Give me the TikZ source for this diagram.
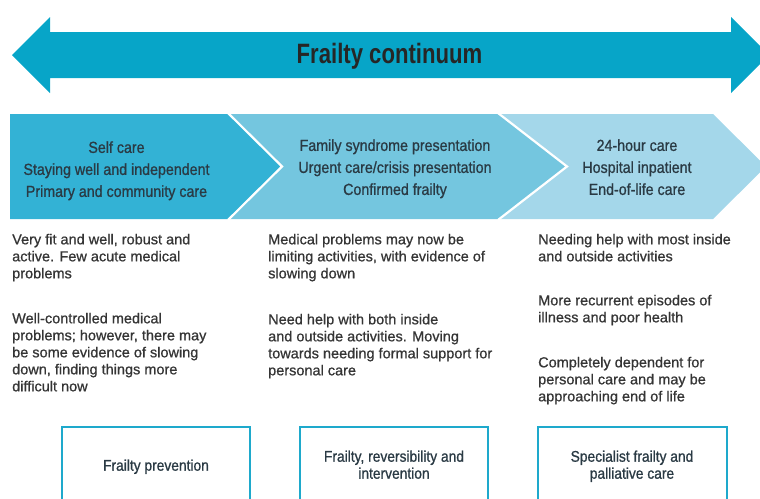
\documentclass[tikz,border=0pt]{standalone}
\usepackage{fontspec}
\setmainfont{Liberation Sans}
\newfontfamily\bodyf{Liberation Sans}[FakeBold=0.8]
\newfontfamily\condf{Liberation Sans}[FakeBold=0.9, FakeStretch=0.89]
\newfontfamily\titlef{Liberation Sans}[FakeStretch=0.79]
\definecolor{arrowc}{HTML}{07A5C8}
\definecolor{chevA}{HTML}{33B2D5}
\definecolor{chevB}{HTML}{74C6DF}
\definecolor{chevC}{HTML}{A4D7EA}
\definecolor{boxc}{HTML}{1EA9CC}
\definecolor{chevtext}{HTML}{2A3A44}
\definecolor{bodytext}{HTML}{353535}
\tikzset{
  chevshape/.style={draw=white, line width=2.2pt, line join=miter},
  titletext/.style={inner sep=0pt, text=black!85, font=\titlef\bfseries\fontsize{28}{30}\selectfont},
  chevlabel/.style={inner sep=0pt, anchor=north, align=center, text=chevtext, font=\condf\fontsize{16}{22}\selectfont},
  bodylabel/.style={inner sep=0pt, anchor=north west, align=left, text=bodytext, font=\bodyf\fontsize{14.5}{17}\selectfont},
  careframe/.style={draw=boxc, line width=2pt},
  boxlabel/.style={inner sep=0pt, anchor=north, align=center, text=chevtext, font=\condf\fontsize{15.5}{17}\selectfont}
}
\begin{document}
\begin{tikzpicture}[x=1pt,y=-1pt]
\useasboundingbox (0,0) rectangle (760,498);
\clip (0,0) rectangle (760,498);
% big double arrow
\fill[arrowc] (12,55) -- (50,17) -- (50,32) -- (731,32) -- (731,17) -- (769,55) -- (731,93) -- (731,78) -- (50,78) -- (50,93) -- cycle;
\node[titletext, anchor=base] (title) at (389.5,63.3) {Frailty continuum};
% chevrons
\fill[chevC] (498,114) -- (713,114) -- (766,166.5) -- (713,219) -- (498,219) -- (567,166.5) -- cycle;
\fill[chevB] (228,114) -- (498,114) -- (567,166.5) -- (498,219) -- (228,219) -- (282,166.5) -- cycle;
\fill[chevA] (10,114) -- (228,114) -- (282,166.5) -- (228,219) -- (10,219) -- cycle;
\draw[chevshape] (228,113) -- (282,166.5) -- (228,220);
\draw[chevshape] (498,113) -- (567,166.5) -- (498,220);
\node[chevlabel] (c1) at (116.5,141.1) {Self care\\Staying well and independent\\Primary and community care};
\node[chevlabel] (c2) at (395,139.1) {Family syndrome presentation\\Urgent care/crisis presentation\\Confirmed frailty};
\node[chevlabel] (c3) at (637,139.1) {24-hour care\\Hospital inpatient\\End-of-life care};
% body texts
\node[bodylabel] (a1) at (12,233.6) {Very fit and well, robust and\\active. Few acute medical\\problems};
\node[bodylabel] (a2) at (12,312.6) {Well-controlled medical\\problems; however, there may\\be some evidence of slowing\\down, finding things more\\difficult now};
\node[bodylabel] (b1) at (268,233.6) {Medical problems may now be\\limiting activities, with evidence of\\slowing down};
\node[bodylabel] (b2) at (268,313.6) {Need help with both inside\\and outside activities. Moving\\towards needing formal support for\\personal care};
\node[bodylabel] (d1) at (538,233.6) {Needing help with most inside\\and outside activities};
\node[bodylabel] (d2) at (538,294.6) {More recurrent episodes of\\illness and poor health};
\node[bodylabel] (d3) at (538,356.6) {Completely dependent for\\personal care and may be\\approaching end of life};
% bottom boxes
\draw[careframe] (62,427) rectangle (250,510);
\draw[careframe] (300,427) rectangle (488,510);
\draw[careframe] (538,427) rectangle (727,510);
\node[boxlabel] (e1) at (156,459.3) {Frailty prevention};
\node[boxlabel] (e2) at (394,450.3) {Frailty, reversibility and\\intervention};
\node[boxlabel] (e3) at (632,450.3) {Specialist frailty and\\palliative care};
\end{tikzpicture}
\end{document}
